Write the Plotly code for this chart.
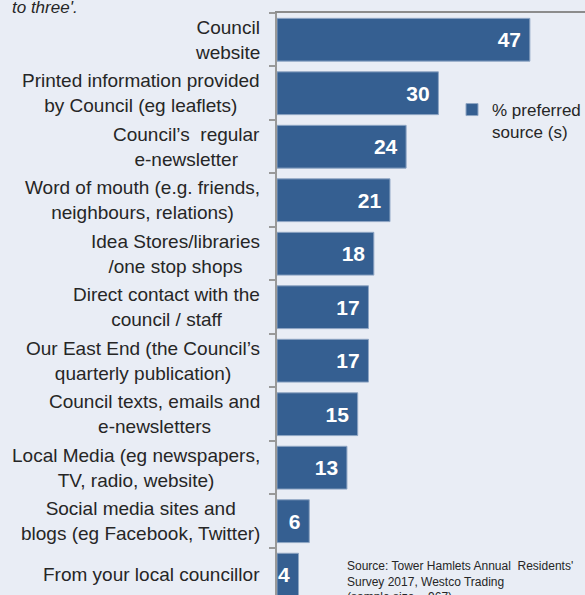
import plotly.graph_objects as go

categories = [
    "Council<br>website",
    "Printed information provided<br>by Council (eg leaflets)",
    "Council’s  regular<br>e-newsletter",
    "Word of mouth (e.g. friends,<br>neighbours, relations)",
    "Idea Stores/libraries<br>/one stop shops",
    "Direct contact with the<br>council / staff",
    "Our East End (the Council’s<br>quarterly publication)",
    "Council texts, emails and<br>e-newsletters",
    "Local Media (eg newspapers,<br>TV, radio, website)",
    "Social media sites and<br>blogs (eg Facebook, Twitter)",
    "From your local councillor",
]
values = [47, 30, 24, 21, 18, 17, 17, 15, 13, 6, 4]
series_name = "% preferred<br>source (s)"
source_text = ("Source: Tower Hamlets Annual  Residents'<br>"
               "Survey 2017, Westco Trading<br>(sample size = 967)")
top_text = "to three'."

W, H = 585, 595
L, T = 277, 13
FONT = "Liberation Sans, Arial, sans-serif"
BG = "#e9edf5"
BAR = "#355f91"

cat_ids = list(range(len(categories)))

fig = go.Figure()
fig.add_trace(go.Bar(
    y=cat_ids,
    x=values,
    orientation="h",
    name=series_name,
    marker=dict(color=BAR, line=dict(color="#8fa6c4", width=1)),
    text=[f"{v}\u00a0" for v in values],
    textposition="inside",
    insidetextanchor="end",
    constraintext="none",
    textfont=dict(family=FONT, size=21, color="white", weight="bold"),
    showlegend=True,
))

annotations = []
for i, c in enumerate(categories):
    annotations.append(dict(
        x=0, xref="paper", y=i, yref="y",
        xanchor="right", yanchor="middle", xshift=-15,
        text=c, showarrow=False, align="center",
        font=dict(family=FONT, size=19, color="#262626"),
    ))

annotations.append(dict(
    x=(345 - L) / (W - L), xref="paper", y=(H - 557) / (H - T), yref="paper",
    xanchor="left", yanchor="top", showarrow=False,
    text=source_text, align="left",
    font=dict(family=FONT, size=12, color="#262626"),
))

annotations.append(dict(
    x=(10 - L) / (W - L), xref="paper", y=1, yref="paper",
    xanchor="left", yanchor="bottom", yshift=-6,
    text=f"<i>{top_text}</i>", showarrow=False,
    font=dict(family=FONT, size=17, color="#262626"),
))

fig.update_layout(
    width=W, height=H,
    margin=dict(l=L, r=0, t=T, b=0, pad=0, autoexpand=False),
    paper_bgcolor=BG, plot_bgcolor=BG,
    bargap=0.2,
    font=dict(family=FONT, color="#262626"),
    xaxis=dict(range=[0, (W - L) / 5.38], side="top", showline=True,
               linecolor="#8c8c8c", linewidth=2, showgrid=False,
               zeroline=False, showticklabels=False, ticks=""),
    yaxis=dict(type="linear", range=[10.38, -0.5], showline=True,
               linecolor="#999999", linewidth=2, showgrid=False,
               zeroline=False, showticklabels=False,
               tickmode="array", tickvals=[i - 0.5 for i in cat_ids] + [len(cat_ids) - 0.5],
               ticks="outside", ticklen=6, tickcolor="#999999", tickwidth=1.5),
    legend=dict(x=(452 - L) / (W - L), y=(H - 92) / (H - T),
                xanchor="left", yanchor="top", bgcolor="rgba(0,0,0,0)",
                font=dict(family=FONT, size=17, color="#262626"),
                itemwidth=30, valign="top", tracegroupgap=0),
    annotations=annotations,
)

fig.write_html(
    "out.html",
    config={"displayModeBar": False},
    post_script="document.body.style.margin='0';document.body.style.overflow='hidden';",
)
